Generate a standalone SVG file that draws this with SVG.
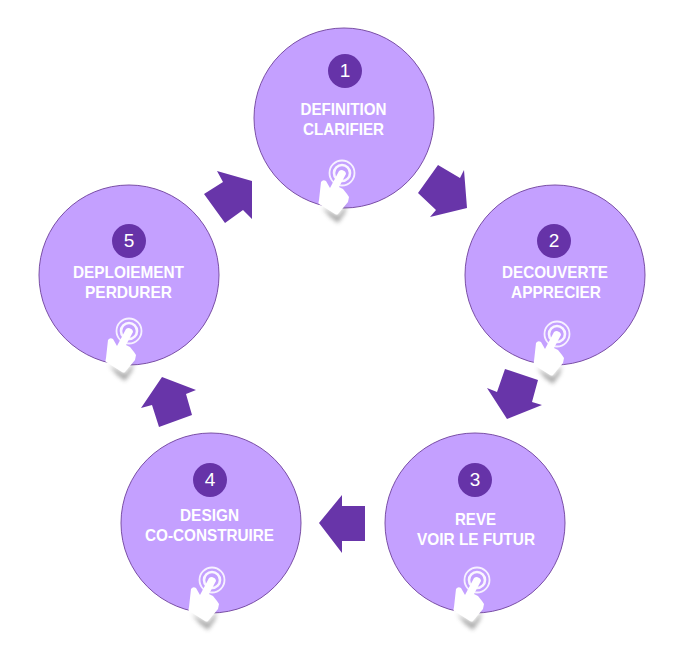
<svg xmlns="http://www.w3.org/2000/svg" width="675" height="647" viewBox="0 0 675 647">
<style>
.c{fill:#c4a0ff;stroke:#7a4fa6;stroke-width:1}
.b{fill:#6633a8}
.a{fill:#6835a9}
.n{font-family:"Liberation Sans",Arial,sans-serif;font-size:19px;fill:#fff;text-anchor:middle}
.t{font-family:"Liberation Sans",Arial,sans-serif;font-size:16.500px;font-weight:bold;fill:#fff;text-anchor:middle}
</style>
<defs>
<filter id="bl" x="-50%" y="-50%" width="200%" height="200%"><feGaussianBlur stdDeviation="2.200"/></filter>
<filter id="sf" x="-10%" y="-10%" width="120%" height="120%"><feGaussianBlur stdDeviation="0.5"/></filter>
<g id="hand">
<path d="M-20 34L-4 43L5 31L3 40L-4 50L-12 44Z" fill="#666" opacity="0.55" filter="url(#bl)"/>
<circle cx="0" cy="0" r="12.500" fill="none" stroke="#fff" stroke-width="1.800" opacity="0.85"/>
<circle cx="0" cy="0" r="8" fill="none" stroke="#fff" stroke-width="2.600" opacity="0.9"/>
<path d="M0 -3Q4 -2 4 1L-3 14L1 16L5 21L7 24L6 29L-4 41Q-5 42 -7 41L-23 31Q-24 30 -23 27L-21 9Q-19 6 -16 8L-12 15L-3 -2Q-2 -3 0 -3Z" fill="#fff"/>
</g>
</defs>
<g id="connectors">
<polygon class="a" filter="url(#sf)" points="438,165 460,178 464,170 467,208 430,217 436,210 418,193"/>
<polygon class="a" filter="url(#sf)" points="505,369 538,380 532,402 542,405 507,419 487,388 497,392"/>
<polygon class="a" filter="url(#sf)" points="319,523 342,495 342,506 365,506 365,541 342,541 342,553"/>
<polygon class="a" filter="url(#sf)" points="162,377 196,390 186,394 192,415 159,427 152,405 141,408"/>
<polygon class="a" filter="url(#sf)" points="217,171 252,181 252,219 243,210 225,223 204,194 223,182"/>
</g>
<g id="node1">
<circle class="c" cx="344" cy="118" r="90"/>
<circle class="b" cx="345" cy="71" r="17"/>
<text class="n" x="345" y="77">1</text>
<text class="t" x="343.500" y="115" textLength="86" lengthAdjust="spacingAndGlyphs">DEFINITION</text>
<text class="t" x="343.500" y="135" textLength="81" lengthAdjust="spacingAndGlyphs">CLARIFIER</text>
<use href="#hand" x="342" y="173"/>
</g>
<g id="node2">
<circle class="c" cx="555" cy="275" r="90"/>
<circle class="b" cx="554" cy="241" r="17"/>
<text class="n" x="554" y="247">2</text>
<text class="t" x="555" y="278" textLength="106" lengthAdjust="spacingAndGlyphs">DECOUVERTE</text>
<text class="t" x="556" y="298" textLength="90" lengthAdjust="spacingAndGlyphs">APPRECIER</text>
<use href="#hand" x="557" y="334"/>
</g>
<g id="node3">
<circle class="c" cx="475" cy="523" r="90"/>
<circle class="b" cx="475" cy="480" r="17"/>
<text class="n" x="475" y="486">3</text>
<text class="t" x="475.500" y="525" textLength="41" lengthAdjust="spacingAndGlyphs">REVE</text>
<text class="t" x="476" y="545" textLength="118" lengthAdjust="spacingAndGlyphs">VOIR LE FUTUR</text>
<use href="#hand" x="477" y="580"/>
</g>
<g id="node4">
<circle class="c" cx="211" cy="523" r="90"/>
<circle class="b" cx="210" cy="480" r="17"/>
<text class="n" x="210" y="486">4</text>
<text class="t" x="209.500" y="521" textLength="59" lengthAdjust="spacingAndGlyphs">DESIGN</text>
<text class="t" x="209.500" y="541" textLength="129" lengthAdjust="spacingAndGlyphs">CO-CONSTRUIRE</text>
<use href="#hand" x="212" y="580"/>
</g>
<g id="node5">
<circle class="c" cx="129" cy="275" r="90"/>
<circle class="b" cx="129" cy="241" r="17"/>
<text class="n" x="129" y="247">5</text>
<text class="t" x="128.500" y="278" textLength="111" lengthAdjust="spacingAndGlyphs">DEPLOIEMENT</text>
<text class="t" x="128.500" y="298" textLength="87" lengthAdjust="spacingAndGlyphs">PERDURER</text>
<use href="#hand" x="129" y="331"/>
</g>
</svg>
